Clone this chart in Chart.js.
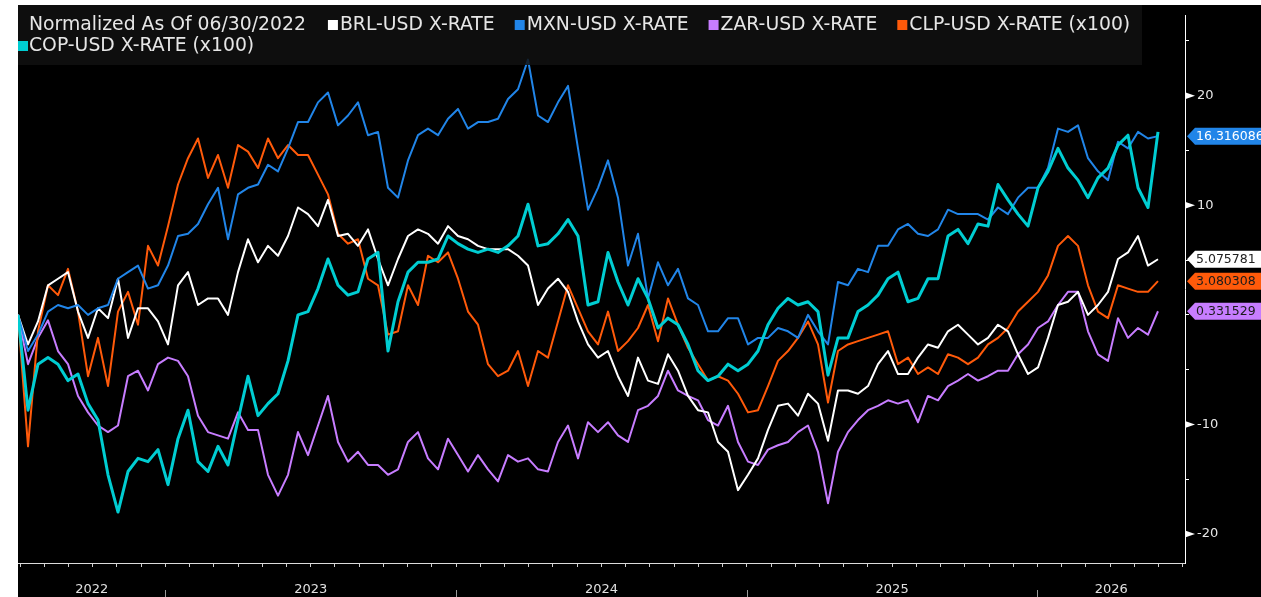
<!DOCTYPE html>
<html>
<head>
<meta charset="utf-8">
<script src="https://cdn.jsdelivr.net/npm/chart.js@4.4.1/dist/chart.umd.min.js"></script>
<style>
html, body { margin: 0; padding: 0; background: #ffffff; }
#wrap { width: 1261px; height: 597px; }
</style>
</head>
<body>
<div id="wrap"><canvas id="myChart" width="1261" height="597"></canvas></div>
<script>
// normalized as of 06/30/2022, one reading roughly every 12-13 days
var startYear = 2022.493;
var stepYears = 0.0344;
var endYear = 2026.5075;

var brl = [0, -2.7, -0.6, 2.7, 3.3, 3.9, 0.3, -2.1, 0.6, -0.3, 3.3, -2.1, 0.6, 0.6, -0.6, -2.7, 2.7, 3.9, 0.9, 1.5,
    1.5, 0, 3.9, 6.9, 4.8, 6.3, 5.4, 7.2, 9.8, 9.2, 8.1, 10.5, 7.2, 7.4, 6.3, 7.8, 5.1, 2.7, 5.1,
    7.2, 7.8, 7.4, 6.5, 8.1, 7.2, 6.9, 6.3, 6.0, 6.0, 6.0, 5.4, 4.5, 0.9, 2.4, 3.3, 2.1, -0.6, -2.7,
    -3.9, -3.3, -5.6, -7.4, -3.9, -6.0, -6.3, -3.6, -5.1, -7.4, -8.7, -8.9, -11.6, -12.5, -16.0, -14.6, -13.1, -10.5, -8.3,
    -8.1, -9.2, -7.2, -8.1, -11.5, -6.9, -6.9, -7.2, -6.5, -4.5, -3.3, -5.4, -5.4, -3.9, -2.7, -3.0, -1.5, -0.9, -1.8,
    -2.7, -2.1, -0.9, -1.5, -3.6, -5.4, -4.8, -2.1, 0.9, 1.2, 2.1, 0, 0.9, 2.1, 5.1, 5.7, 7.2, 4.5, 5.075781];

var mxn = [0, -3.3, -1.8, 0.3, 0.9, 0.6, 0.9, 0, 0.6, 0.9, 3.3, 3.9, 4.5, 2.4, 2.7, 4.5, 7.2, 7.4, 8.3, 10.1,
    11.6, 6.9, 11.0, 11.6, 11.9, 13.7, 13.1, 15.2, 17.6, 17.6, 19.4, 20.3, 17.3, 18.2, 19.4, 16.4, 16.7, 11.6, 10.7,
    14.1, 16.4, 17.0, 16.4, 17.9, 18.8, 17.0, 17.6, 17.6, 17.9, 19.7, 20.6, 23.3, 18.2, 17.6, 19.4, 20.9, 15.2, 9.6,
    11.6, 14.1, 10.7, 4.5, 7.4, 1.5, 4.8, 2.7, 4.2, 1.5, 0.9, -1.5, -1.5, -0.3, -0.3, -2.7, -2.1, -2.1, -1.2,
    -1.5, -2.1, 0, -1.5, -2.7, 3.0, 2.7, 4.2, 3.9, 6.3, 6.3, 7.8, 8.3, 7.4, 7.2, 7.8, 9.6, 9.2, 9.2,
    9.2, 8.7, 9.8, 9.2, 10.7, 11.6, 11.6, 13.4, 17.0, 16.7, 17.3, 14.3, 13.1, 12.3, 15.8, 15.2, 16.7, 16.1, 16.316086];

var zar = [0, -4.5, -2.1, -0.5, -3.3, -4.5, -7.4, -8.9, -10.1, -10.7, -10.1, -5.6, -5.1, -6.9, -4.5, -3.9, -4.2, -5.6, -9.2, -10.7,
    -11.0, -11.3, -8.9, -10.5, -10.5, -14.6, -16.5, -14.6, -10.7, -12.8, -10.1, -7.4, -11.6, -13.4, -12.5, -13.7, -13.7, -14.6, -14.1,
    -11.6, -10.7, -13.1, -14.1, -11.3, -12.8, -14.3, -12.8, -14.1, -15.2, -12.8, -13.4, -13.1, -14.1, -14.3, -11.6, -10.1, -13.1, -9.8,
    -10.7, -9.8, -11.0, -11.6, -8.7, -8.3, -7.4, -5.1, -6.9, -7.4, -7.8, -9.6, -10.1, -8.3, -11.6, -13.4, -13.7, -12.3, -11.9,
    -11.6, -10.7, -10.1, -12.5, -17.2, -12.5, -10.7, -9.6, -8.7, -8.3, -7.8, -8.1, -7.8, -9.8, -7.4, -7.8, -6.5, -6.0, -5.4,
    -6.0, -5.6, -5.1, -5.1, -3.6, -2.7, -1.2, -0.6, 0.9, 2.1, 2.1, -1.5, -3.6, -4.2, -0.3, -2.1, -1.2, -1.8, 0.331529];

var clp = [0, -12, -1.5, 2.7, 1.8, 4.2, 0.3, -5.6, -2.1, -6.5, 0.3, 2.1, -0.9, 6.3, 4.5, 8.1, 11.9, 14.3, 16.1, 12.5,
    14.6, 11.6, 15.5, 14.9, 13.4, 16.1, 14.3, 15.5, 14.6, 14.6, 12.8, 11.0, 7.4, 6.5, 6.9, 3.3, 2.7, -1.8, -1.5,
    2.7, 0.9, 5.4, 4.8, 5.7, 3.3, 0.3, -0.9, -4.5, -5.6, -5.1, -3.3, -6.5, -3.3, -3.9, -0.6, 2.7, 0.6, -1.5,
    -2.7, 0.3, -3.3, -2.4, -1.2, 0.9, -2.4, 1.5, -0.9, -3.0, -4.5, -6.0, -5.6, -6.0, -7.2, -8.9, -8.7, -6.5, -4.2,
    -3.3, -2.1, -0.6, -2.7, -8.0, -3.3, -2.7, -2.4, -2.1, -1.8, -1.5, -4.5, -3.9, -5.4, -4.8, -5.4, -3.6, -3.9, -4.5,
    -3.9, -2.7, -2.1, -1.2, 0.3, 1.2, 2.1, 3.6, 6.3, 7.2, 6.3, 2.7, 0.3, -0.3, 2.7, 2.4, 2.1, 2.1, 3.080308];

var cop = [0, -8.7, -4.5, -3.9, -4.5, -6.0, -5.4, -8.1, -9.6, -14.6, -18.0, -14.3, -13.1, -13.4, -12.3, -15.5, -11.3, -8.7, -13.4, -14.3,
    -12.0, -13.7, -9.6, -5.6, -9.2, -8.1, -7.2, -4.2, 0, 0.3, 2.4, 5.1, 2.7, 1.8, 2.1, 5.1, 5.7, -3.3, 1.2,
    3.9, 4.8, 4.8, 5.1, 7.2, 6.5, 6.0, 5.7, 6.0, 5.7, 6.3, 7.2, 10.1, 6.3, 6.5, 7.4, 8.7, 7.2, 0.9,
    1.2, 5.7, 3.0, 0.9, 3.3, 1.5, -1.2, -0.3, -0.9, -2.7, -5.1, -6.0, -5.6, -4.5, -5.1, -4.5, -3.3, -0.9, 0.6,
    1.5, 0.9, 1.2, 0.3, -5.5, -2.1, -2.1, 0.3, 0.9, 1.8, 3.3, 3.9, 1.2, 1.5, 3.3, 3.3, 7.2, 7.8, 6.5,
    8.3, 8.1, 11.9, 10.5, 9.2, 8.1, 11.6, 13.1, 15.2, 13.4, 12.3, 10.7, 12.5, 13.4, 15.5, 16.4, 11.6, 9.8, 16.7];

var seriesNames = ["BRL-USD X-RATE", "MXN-USD X-RATE", "ZAR-USD X-RATE", "CLP-USD X-RATE (x100)", "COP-USD X-RATE (x100)"];
var seriesColors = ["#ffffff", "#2185e8", "#c77dff", "#ff5a0a", "#00cdd2"];
var yearLabels = [2022, 2023, 2024, 2025, 2026];
var yTicks = [-20, -15, -10, -5, 0, 5, 10, 15, 20, 25];
var yTickLabels = [20, 10, -10, -20];

var FONT = "'DejaVu Sans', sans-serif";

function toPoints(arr) {
    var pts = [];
    for (var i = 0; i < arr.length; i++) {
        pts.push({ x: startYear + i * stepYears, y: arr[i] });
    }
    return pts;
}

// background, legend, axis decorations
var bbgPlugin = {
    id: 'bbg',
    beforeDraw: function (chart) {
        var ctx = chart.ctx;
        ctx.save();
        ctx.fillStyle = '#ffffff';
        ctx.fillRect(0, 0, chart.width, chart.height);
        ctx.fillStyle = '#000000';
        ctx.fillRect(18, 5, chart.width - 18, chart.height - 5);
        ctx.restore();
    },
    afterDatasetsDraw: function (chart) {
        var ctx = chart.ctx;
        ctx.save();
        ctx.fillStyle = 'rgba(16,16,16,0.85)';
        ctx.fillRect(18, 5, 1124, 60);

        ctx.font = '100px ' + FONT;
        var size = 100 * 221 / ctx.measureText(seriesNames[3]).width;
        ctx.font = size.toFixed(2) + 'px ' + FONT;
        ctx.textBaseline = 'middle';
        ctx.fillStyle = '#e6e6e6';
        var x = 29, y1 = 25, y2 = 46;
        var head = 'Normalized As Of 06/30/2022';
        ctx.fillText(head, x, y1);
        x += ctx.measureText(head).width + 22;
        for (var i = 0; i < 4; i++) {
            ctx.fillStyle = seriesColors[i];
            ctx.fillRect(x, y1 - 5, 10, 10);
            ctx.fillStyle = '#e6e6e6';
            ctx.fillText(seriesNames[i], x + 12, y1);
            x += 12 + ctx.measureText(seriesNames[i]).width + 20;
        }
        ctx.fillStyle = seriesColors[4];
        ctx.fillRect(18, y2 - 5, 10, 10);
        ctx.fillStyle = '#e6e6e6';
        ctx.fillText(seriesNames[4], 29, y2);
        ctx.restore();
    },
    afterDraw: function (chart) {
        var ctx = chart.ctx;
        var xs = chart.scales.x, ys = chart.scales.y;
        var area = chart.chartArea;
        ctx.save();

        // triangles on labelled y ticks
        ctx.fillStyle = '#ffffff';
        yTickLabels.forEach(function (v) {
            var py = ys.getPixelForValue(v);
            ctx.beginPath();
            ctx.moveTo(area.right, py - 3.5);
            ctx.lineTo(area.right + 10, py);
            ctx.lineTo(area.right, py + 3.5);
            ctx.closePath();
            ctx.fill();
        });

        // year separators and labels
        ctx.strokeStyle = '#9a9a9a';
        ctx.lineWidth = 1;
        ctx.font = '13px ' + FONT;
        ctx.fillStyle = '#e0e0e0';
        ctx.textAlign = 'center';
        ctx.textBaseline = 'middle';
        yearLabels.forEach(function (yr) {
            var a = Math.max(yr, startYear), b = Math.min(yr + 1, endYear);
            var pa = xs.getPixelForValue(a), pb = xs.getPixelForValue(b);
            if (yr > startYear) {
                ctx.beginPath();
                ctx.moveTo(Math.round(pa) + 0.5, 590);
                ctx.lineTo(Math.round(pa) + 0.5, 597);
                ctx.stroke();
            }
            ctx.fillText(String(yr), (pa + pb) / 2, 590);
        });

        // last value tags
        var tags = [
            { data: mxn, bg: seriesColors[1], fg: '#ffffff' },
            { data: brl, bg: seriesColors[0], fg: '#222222' },
            { data: clp, bg: seriesColors[3], fg: '#1a1a1a' },
            { data: zar, bg: seriesColors[2], fg: '#1a1a1a' }
        ];
        ctx.font = '12.5px ' + FONT;
        ctx.textAlign = 'left';
        tags.forEach(function (t) {
            var v = t.data[t.data.length - 1];
            var py = ys.getPixelForValue(v);
            ctx.fillStyle = t.bg;
            ctx.beginPath();
            ctx.moveTo(area.right + 2, py);
            ctx.lineTo(area.right + 10, py - 8.5);
            ctx.lineTo(chart.width, py - 8.5);
            ctx.lineTo(chart.width, py + 8.5);
            ctx.lineTo(area.right + 10, py + 8.5);
            ctx.closePath();
            ctx.fill();
            ctx.fillStyle = t.fg;
            ctx.fillText(v.toFixed(6), area.right + 11, py + 0.5);
        });
        ctx.restore();
    }
};

const ctx = document.getElementById('myChart').getContext('2d');
const myChart = new Chart(ctx, {
    type: 'line',
    data: {
        datasets: [
            { label: seriesNames[4], data: toPoints(cop), borderColor: seriesColors[4], borderWidth: 3, order: 0 },
            { label: seriesNames[1], data: toPoints(mxn), borderColor: seriesColors[1], borderWidth: 2, order: 1 },
            { label: seriesNames[0], data: toPoints(brl), borderColor: seriesColors[0], borderWidth: 2, order: 2 },
            { label: seriesNames[3], data: toPoints(clp), borderColor: seriesColors[3], borderWidth: 2, order: 3 },
            { label: seriesNames[2], data: toPoints(zar), borderColor: seriesColors[2], borderWidth: 2, order: 4 }
        ]
    },
    options: {
        responsive: false,
        animation: false,
        elements: { point: { radius: 0 }, line: { tension: 0, borderJoinStyle: 'round' } },
        layout: { padding: { left: 18, top: 5, right: 0, bottom: 0 } },
        plugins: { legend: { display: false }, tooltip: { enabled: false } },
        scales: {
            x: {
                type: 'linear',
                min: startYear,
                max: endYear,
                afterBuildTicks: function (scale) {
                    var t = [];
                    for (var yr = 2022; yr <= 2026; yr++) {
                        for (var m = 0; m < 12; m++) {
                            var v = yr + m / 12;
                            if (v > startYear && v < endYear) t.push({ value: v });
                        }
                    }
                    scale.ticks = t;
                },
                afterFit: function (scale) { scale.height = 34; },
                grid: { drawOnChartArea: false, drawTicks: true, tickLength: 4, color: '#cfcfcf' },
                border: { display: true, color: '#dcdcdc', width: 1 },
                ticks: { display: false }
            },
            y: {
                position: 'right',
                min: -22.65,
                max: 27.3,
                afterBuildTicks: function (scale) {
                    scale.ticks = yTicks.map(function (v) { return { value: v }; });
                },
                afterFit: function (scale) { scale.width = 76; },
                grid: { drawOnChartArea: false, drawTicks: true, tickLength: 4, color: '#ffffff' },
                border: { display: true, color: '#ffffff', width: 1 },
                ticks: {
                    padding: 8,
                    color: '#e6e6e6',
                    font: { family: FONT, size: 13 },
                    callback: function (v) {
                        return yTickLabels.indexOf(v) >= 0 ? String(v) : '';
                    }
                }
            }
        }
    },
    plugins: [bbgPlugin]
});
</script>
</body>
</html>
